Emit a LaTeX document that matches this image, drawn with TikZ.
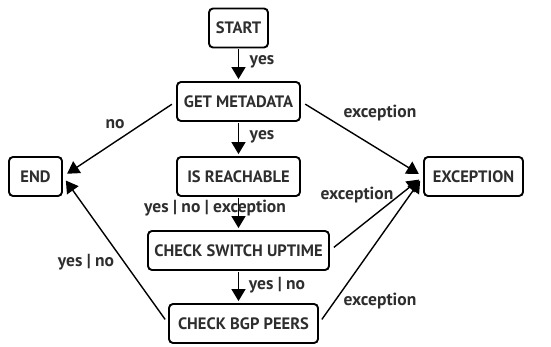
\documentclass[tikz,border=0pt]{standalone}
\usepackage{fontspec}
\setmainfont{PT Sans}
\usetikzlibrary{arrows.meta}
\definecolor{txt}{HTML}{2E2E2E}
\begin{document}
\begin{tikzpicture}[x=1pt,y=-1pt,
  box/.style={draw=black,line width=1.9pt,rounded corners=4pt,minimum height=39pt,inner sep=0pt,
    font=\fontsize{16.5}{18}\selectfont\bfseries,text=txt},
  lbl/.style={font=\fontsize{17.5}{19}\selectfont\bfseries,text=txt,inner sep=0pt},
  arr/.style={line width=1.4pt,-{Triangle[length=12pt,width=14pt]}},
  diag/.style={arr,shorten <=5pt,shorten >=5pt},
  vert/.style={arr,shorten <=1pt,shorten >=2pt}]
\useasboundingbox (0,0) rectangle (551,347);
\node[box,minimum width=59pt] (start) at (238.5,28) {START};
\node[box,minimum width=123pt] (get) at (238.5,101.5) {GET METADATA};
\node[box,minimum width=123pt] (reach) at (238.5,176.5) {IS REACHABLE};
\node[box,minimum width=181pt] (csu) at (238.5,250.5) {CHECK SWITCH UPTIME};
\node[box,minimum width=149pt] (bgp) at (243.5,323.5) {CHECK BGP PEERS};
\node[box,minimum width=53pt] (end) at (35.5,176.5) {END};
\node[box,minimum width=99pt] (exc) at (473.5,176.5) {EXCEPTION};

\draw[vert] (start.south) -- (get.north);
\draw[vert] (get.south) -- (reach.north);
\draw[vert] (reach.south) -- (csu.north);
\draw[vert] (csu.south -| start.south) -- (bgp.north -| start.south);
\draw[diag] (get.west) -- (end.east);
\draw[diag] (bgp.west) -- (end.east);
\draw[diag] (get.east) -- (exc.west);
\draw[diag] (csu.east) -- (exc.west);
\draw[diag] (bgp.east) -- (exc.west);

\node[lbl] (l1) at (262,62) {yes};
\node[lbl] (l2) at (262,137) {yes};
\node[lbl] (l3) at (215,208) {yes | no | exception};
\node[lbl] (l4) at (277,285) {yes | no};
\node[lbl] (l5) at (115,124) {no};
\node[lbl] (l6) at (380,113) {exception};
\node[lbl] (l7) at (357,195) {exception};
\node[lbl] (l8) at (380,301) {exception};
\node[lbl] (l9) at (86,262) {yes | no};
\end{tikzpicture}
\end{document}
